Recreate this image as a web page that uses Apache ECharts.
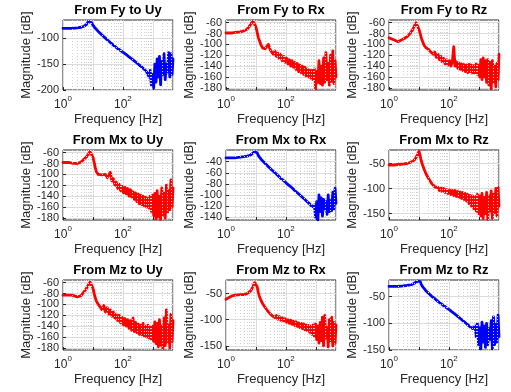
<!DOCTYPE html>
<html><head><meta charset="utf-8">
<script src="https://cdn.jsdelivr.net/npm/echarts@6/dist/echarts.min.js"></script>
<style>html,body{margin:0;padding:0;background:#fff}#c{width:511px;height:392px}</style>
</head><body><div id="c"></div>
<script>
// Frequency grid [Hz]
const freq = [1,1.5,2,3,4,5,6,7,8,9,10,11,12,13,15,17,20,23,26,30,34,38,43,48,54,60,67,75,84,94,105,117,130,145,160,178,197,218,240,265,292,322,355,390,430,470,515,565,620,680,745,815,890,975,1065,1165,1270,1390,1520,1660,1810,1980,2160,2360,2580,2820,3080,3360,3670,4000,4370,4700];

const titles = ['From Fy to Uy','From Fy to Rx','From Fy to Rz','From Mx to Uy','From Mx to Rx','From Mx to Rz','From Mz to Uy','From Mz to Rx','From Mz to Rz'];

// Magnitudes [dB]
const fyUy = [-81,-81,-81,-80,-79,-77,-74,-68,-65,-70,-75,-78,-81,-83,-87,-90,-94,-97,-100,-103,-106,-108,-111,-113,-116,-118,-120,-122,-124,-126,-128,-130,-132,-134,-136,-138,-140,-142,-144,-146,-148,-150,-152,-154,-156,-158,-160,-162,-165,-168,-175,-162,-190,-170,-196,-150,-185,-140,-175,-135,-190,-145,-170,-130,-180,-150,-165,-128,-175,-130,-170,-140];
const fyRx = [-79,-79,-78,-77,-75,-72,-67,-61,-57,-60,-68,-78,-87,-93,-102,-107,-108,-107,-100,-110,-108,-118,-112,-122,-116,-126,-118,-130,-122,-133,-125,-136,-128,-140,-130,-142,-133,-146,-135,-150,-138,-152,-140,-155,-142,-158,-145,-160,-147,-162,-148,-165,-145,-182,-150,-170,-130,-172,-140,-175,-125,-170,-115,-165,-135,-175,-120,-168,-112,-172,-130,-160];
const fyRz = [-88,-92,-95,-90,-86,-80,-74,-66,-60,-63,-72,-80,-88,-94,-102,-106,-108,-112,-110,-118,-114,-124,-118,-128,-122,-132,-126,-136,-128,-138,-130,-140,-132,-104,-140,-132,-144,-134,-146,-136,-148,-137,-150,-138,-152,-137,-150,-138,-153,-139,-152,-136,-155,-138,-160,-128,-165,-125,-160,-130,-170,-128,-175,-133,-182,-130,-170,-140,-178,-135,-165,-118];
const mxUy = [-78,-78,-79,-80,-77,-72,-68,-63,-58,-60,-68,-78,-88,-95,-100,-102,-101,-104,-100,-106,-108,-96,-112,-108,-120,-114,-126,-118,-130,-122,-134,-124,-136,-126,-140,-128,-142,-132,-146,-134,-150,-136,-154,-138,-156,-140,-158,-142,-160,-144,-162,-140,-168,-138,-176,-135,-182,-130,-178,-140,-183,-125,-175,-135,-180,-120,-170,-130,-165,-110,-160,-125];
const mxRx = [-33,-33,-33,-32,-31,-30,-29,-27,-25,-22,-19,-24,-29,-32,-36,-39,-43,-46,-49,-52,-55,-57,-60,-62,-65,-67,-70,-72,-74,-76,-79,-81,-83,-85,-87,-90,-92,-94,-96,-98,-100,-102,-104,-106,-108,-110,-112,-114,-116,-118,-121,-124,-118,-140,-112,-145,-100,-130,-105,-138,-108,-125,-112,-135,-100,-130,-110,-128,-95,-125,-88,-115];
const mxRz = [-53,-53,-52,-51,-50,-48,-46,-43,-38,-32,-25,-35,-45,-52,-62,-70,-78,-84,-89,-93,-97,-100,-98,-104,-99,-106,-100,-108,-102,-110,-103,-112,-104,-114,-104,-116,-106,-118,-107,-120,-108,-122,-110,-125,-112,-130,-114,-135,-115,-140,-116,-145,-112,-150,-115,-155,-110,-160,-118,-150,-108,-162,-115,-145,-105,-160,-112,-148,-100,-155,-98,-135];
const mzUy = [-83,-83,-83,-86,-84,-77,-71,-64,-59,-62,-70,-80,-88,-94,-100,-104,-110,-102,-114,-106,-118,-110,-122,-114,-126,-118,-130,-120,-134,-124,-138,-126,-140,-128,-144,-130,-148,-125,-150,-133,-152,-136,-155,-138,-156,-135,-158,-140,-160,-138,-162,-142,-165,-140,-168,-132,-172,-135,-178,-128,-175,-140,-182,-125,-176,-110,-170,-138,-180,-118,-168,-130];
const mzRx = [-61,-55,-53,-52,-52,-50,-47,-43,-36,-29,-27,-37,-48,-55,-64,-70,-76,-81,-85,-88,-92,-89,-96,-92,-99,-94,-101,-96,-103,-98,-105,-100,-107,-101,-109,-103,-111,-104,-113,-106,-115,-107,-117,-108,-119,-110,-121,-111,-124,-112,-128,-110,-132,-108,-138,-112,-145,-105,-140,-95,-150,-92,-135,-115,-152,-100,-140,-95,-150,-105,-145,-110];
const mzRz = [-31,-31,-31,-30,-29,-28,-27,-25,-23,-21,-19,-22,-27,-31,-35,-39,-43,-46,-49,-52,-54,-57,-59,-61,-63,-65,-67,-69,-71,-73,-75,-77,-79,-81,-83,-85,-87,-89,-91,-93,-95,-97,-99,-101,-103,-105,-107,-109,-110,-112,-105,-125,-100,-140,-108,-148,-98,-135,-105,-145,-100,-140,-110,-130,-95,-148,-88,-140,-102,-135,-85,-125];

// Axis limits and tick labels
const yMin = [-200,-184,-184,-184,-145,-163,-184,-158,-150];
const yMax = [-65,-55,-55,-55,-19,-23,-55,-24,-19];
const ticks20 = [-180,-160,-140,-120,-100,-80,-60];
const ticks50 = [-150,-100,-50];
const yTicks = [[-200,-150,-100], ticks20, ticks20, ticks20, [-140,-120,-100,-80,-60,-40], ticks50, ticks20, ticks50, ticks50];
const xMin = 1, xMax = 4700;
const xLabelled = [1, 100];
const xMinorGrid = [2,3,4,5,6,7,8,9,20,30,40,50,60,70,80,90,200,300,400,500,600,700,800,900,2000,3000,4000];

const seriesVals = [fyUy, fyRx, fyRz, mxUy, mxRx, mxRz, mzUy, mzRx, mzRz];
const colors = ['#0000ff','#ff0000','#ff0000','#ff0000','#0000ff','#ff0000','#ff0000','#ff0000','#0000ff'];

const lefts = [63, 226, 389], tops = [20, 150, 280], W = 110, H = 70;
const yNameGap = [24, 30, 27];
const FONT = 'Liberation Sans, Arial, Helvetica, sans-serif';
const ink = '#262626';

const grid = [], xAxis = [], yAxis = [], series = [], title = [];
for (let i = 0; i < 9; i++) {
  const r = Math.floor(i / 3), c = i % 3;
  grid.push({left: lefts[c], top: tops[r], width: W, height: H, show: true, borderColor: ink, borderWidth: 1, backgroundColor: '#fff', containLabel: false});
  title.push({text: titles[i], left: lefts[c] + W / 2, top: tops[r] - 16, textAlign: 'center', padding: 0,
    textStyle: {fontFamily: FONT, fontSize: 13, fontWeight: 'bold', color: '#000'}});
  xAxis.push({
    type: 'log', logBase: 10, gridIndex: i, min: xMin, max: xMax,
    name: 'Frequency [Hz]', nameLocation: 'middle', nameGap: 23,
    nameTextStyle: {fontFamily: FONT, fontSize: 13, color: ink},
    axisLine: {show: false},
    axisTick: {show: true, inside: true, length: 3, lineStyle: {color: ink}},
    splitLine: {show: true, lineStyle: {color: '#dcdcdc', width: 1}},
    axisLabel: {
      margin: 5, color: ink, fontFamily: FONT, showMinLabel: true, showMaxLabel: false,
      formatter: function (v) {
        for (const t of xLabelled) {
          if (Math.abs(Math.log10(v) - Math.log10(t)) < 1e-6) return '{b|10}{s|' + Math.round(Math.log10(t)) + '}';
        }
        return '';
      },
      rich: {b: {fontSize: 12, fontFamily: FONT, color: ink, lineHeight: 16, verticalAlign: 'bottom'},
             s: {fontSize: 8, fontFamily: FONT, color: ink, lineHeight: 16, verticalAlign: 'top'}}
    }
  });
  yAxis.push({
    type: 'value', gridIndex: i, min: yMin[i], max: yMax[i],
    name: 'Magnitude [dB]', nameLocation: 'middle', nameGap: yNameGap[c], nameRotate: 90,
    nameTextStyle: {fontFamily: FONT, fontSize: 13, color: ink},
    axisLine: {show: false},
    axisTick: {show: true, inside: true, length: 3, customValues: yTicks[i], lineStyle: {color: ink}},
    axisLabel: {customValues: yTicks[i], margin: 4, color: ink, fontFamily: FONT, fontSize: 11, lineHeight: 9,
      showMinLabel: true, showMaxLabel: true, hideOverlap: false},
    splitLine: {show: true, lineStyle: {color: '#dcdcdc', width: 1}}
  });
  // minor grid (dotted) through the log scale
  series.push({
    type: 'line', xAxisIndex: i, yAxisIndex: i, data: [], silent: true, z: 1,
    markLine: {silent: true, symbol: 'none', animation: false, label: {show: false},
      lineStyle: {color: '#d0d0d0', type: [1, 2], width: 1},
      data: xMinorGrid.map(v => ({xAxis: v}))}
  });
  series.push({
    type: 'line', xAxisIndex: i, yAxisIndex: i, z: 3,
    data: freq.map((f, k) => [f, seriesVals[i][k]]),
    showSymbol: false, symbol: 'none', animation: false, clip: true,
    lineStyle: {color: colors[i], width: 2.8, join: 'round', cap: 'round'}
  });
}

const chart = echarts.init(document.getElementById('c'), null, {renderer: 'canvas'});
chart.setOption({backgroundColor: '#fff', animation: false, title, grid, xAxis, yAxis, series});
</script></body></html>
